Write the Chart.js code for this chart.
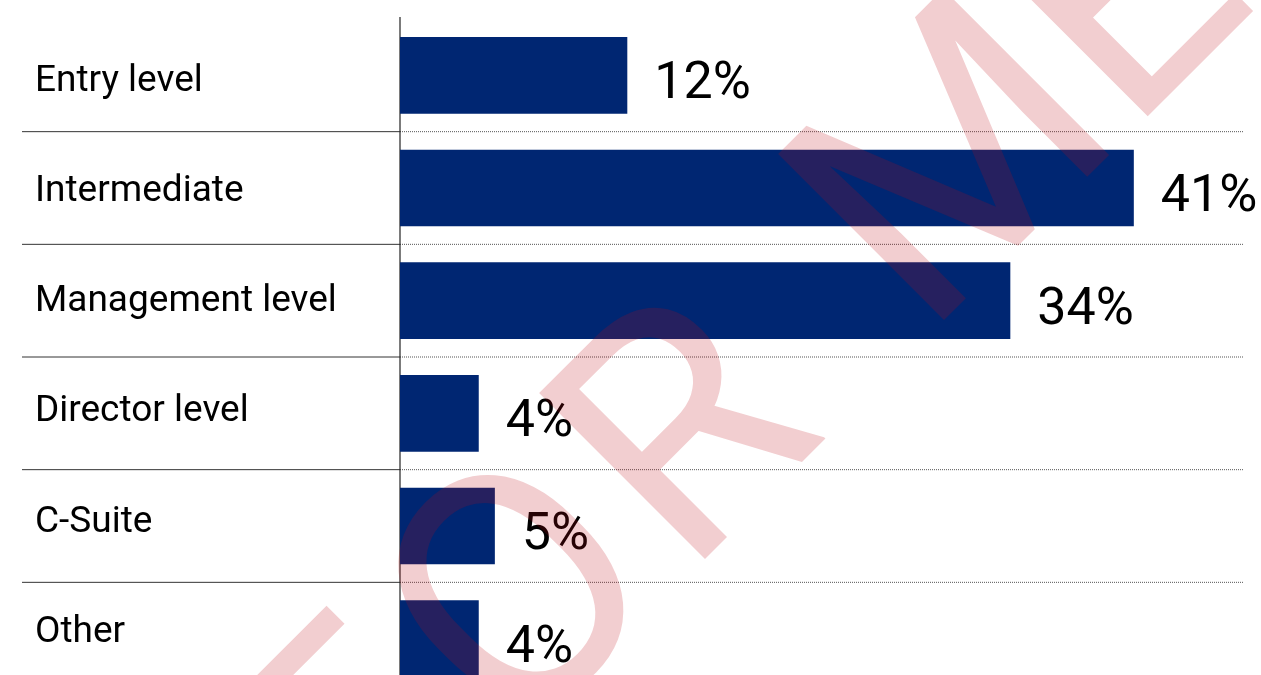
<!DOCTYPE html>
<html>
<head>
<meta charset="utf-8">
<script src="https://cdn.jsdelivr.net/npm/chart.js@4/dist/chart.umd.min.js"></script>
<style>
  html, body { margin: 0; padding: 0; background: #fff; overflow: hidden; }
  #wrap { position: relative; width: 1261px; height: 713px; }
</style>
</head>
<body>
<div id="wrap"><canvas id="chart"></canvas></div>
<script>
const categories = ["Entry level", "Intermediate", "Management level", "Director level", "C-Suite", "Other"];
const shares = [12.7, 41, 34.1, 4.4, 5.3, 4.4];
const watermarkParts = ["F", "O", "R", "ME"];

// separators between rows: solid in the label area, dotted across the bars
const rowLines = {
  id: "rowLines",
  beforeDatasetsDraw(chart) {
    const { ctx, chartArea } = chart;
    const y = chart.scales.y;
    ctx.save();
    ctx.lineWidth = 1;
    for (let i = 0; i < categories.length - 1; i++) {
      const py = (y.getPixelForTick(i) + y.getPixelForTick(i + 1)) / 2;
      ctx.strokeStyle = "#333";
      ctx.setLineDash([]);
      ctx.beginPath();
      ctx.moveTo(22, py);
      ctx.lineTo(chartArea.left, py);
      ctx.stroke();
      ctx.strokeStyle = "#555";
      ctx.setLineDash([1, 1]);
      ctx.beginPath();
      ctx.moveTo(chartArea.left, py);
      ctx.lineTo(chartArea.right, py);
      ctx.stroke();
    }
    ctx.setLineDash([]);
    ctx.strokeStyle = "#222";
    ctx.lineWidth = 1.2;
    ctx.beginPath();
    ctx.moveTo(chartArea.left, chartArea.top - 2);
    ctx.lineTo(chartArea.left, chartArea.bottom);
    ctx.stroke();
    ctx.restore();
  }
};

// category names: the text rows run on a slightly tighter pitch than the bars
const categoryLabels = {
  id: "categoryLabels",
  afterDraw(chart) {
    const { ctx } = chart;
    const y = chart.scales.y;
    const first = y.getPixelForTick(0) + 15.4;
    ctx.save();
    ctx.font = "37px Roboto";
    ctx.fillStyle = "#000";
    ctx.textAlign = "left";
    ctx.textBaseline = "alphabetic";
    categories.forEach((c, i) => {
      ctx.fillText(c, y.left, first + i * 110.2);
    });
    ctx.restore();
  }
};

const valueLabels = {
  id: "valueLabels",
  afterDatasetsDraw(chart) {
    const { ctx } = chart;
    const meta = chart.getDatasetMeta(0);
    ctx.save();
    ctx.font = "52px Roboto";
    ctx.fillStyle = "#000";
    ctx.textAlign = "left";
    ctx.textBaseline = "alphabetic";
    meta.data.forEach((bar, i) => {
      ctx.fillText(Math.floor(shares[i]) + "%", bar.x + 27, bar.y + 23);
    });
    ctx.restore();
  }
};

// big pink watermark running up at 45 degrees over everything
const watermark = {
  id: "watermark",
  afterDraw(chart) {
    const { ctx } = chart;
    const starts = [-370, -168, 76, 414];  // letter origins along the baseline
    const line = 1264;                      // baseline: x + y = line
    ctx.save();
    ctx.font = "330px Roboto";
    ctx.fillStyle = "rgba(191, 10, 20, 0.2)";
    ctx.textAlign = "left";
    ctx.textBaseline = "alphabetic";
    watermarkParts.forEach((w, i) => {
      const d = starts[i] * Math.SQRT2;
      ctx.save();
      ctx.translate((line + d) / 2, (line - d) / 2);
      ctx.rotate(-Math.PI / 4);
      ctx.fillText(w, 0, 0);
      ctx.restore();
    });
    ctx.restore();
  }
};

new Chart(document.getElementById("chart"), {
  type: "bar",
  data: {
    labels: categories,
    datasets: [{
      data: shares,
      backgroundColor: "#002672",
      borderWidth: 0,
      categoryPercentage: 1,
      barPercentage: 0.68
    }]
  },
  options: {
    indexAxis: "y",
    responsive: true,
    maintainAspectRatio: false,
    animation: false,
    layout: { padding: { left: 35, right: 18, top: 19, bottom: 18 } },
    plugins: {
      legend: { display: false },
      tooltip: { enabled: false }
    },
    scales: {
      x: { display: false, min: 0, max: 47.1 },
      y: {
        grid: { display: false },
        border: { display: false },
        afterFit(scale) { scale.width = 365; },
        ticks: {
          crossAlign: "far",
          color: "rgba(0,0,0,0)",
          font: { family: "Roboto", size: 37, lineHeight: 0.8 }
        }
      }
    }
  },
  plugins: [rowLines, valueLabels, categoryLabels, watermark]
});
</script>
</body>
</html>
